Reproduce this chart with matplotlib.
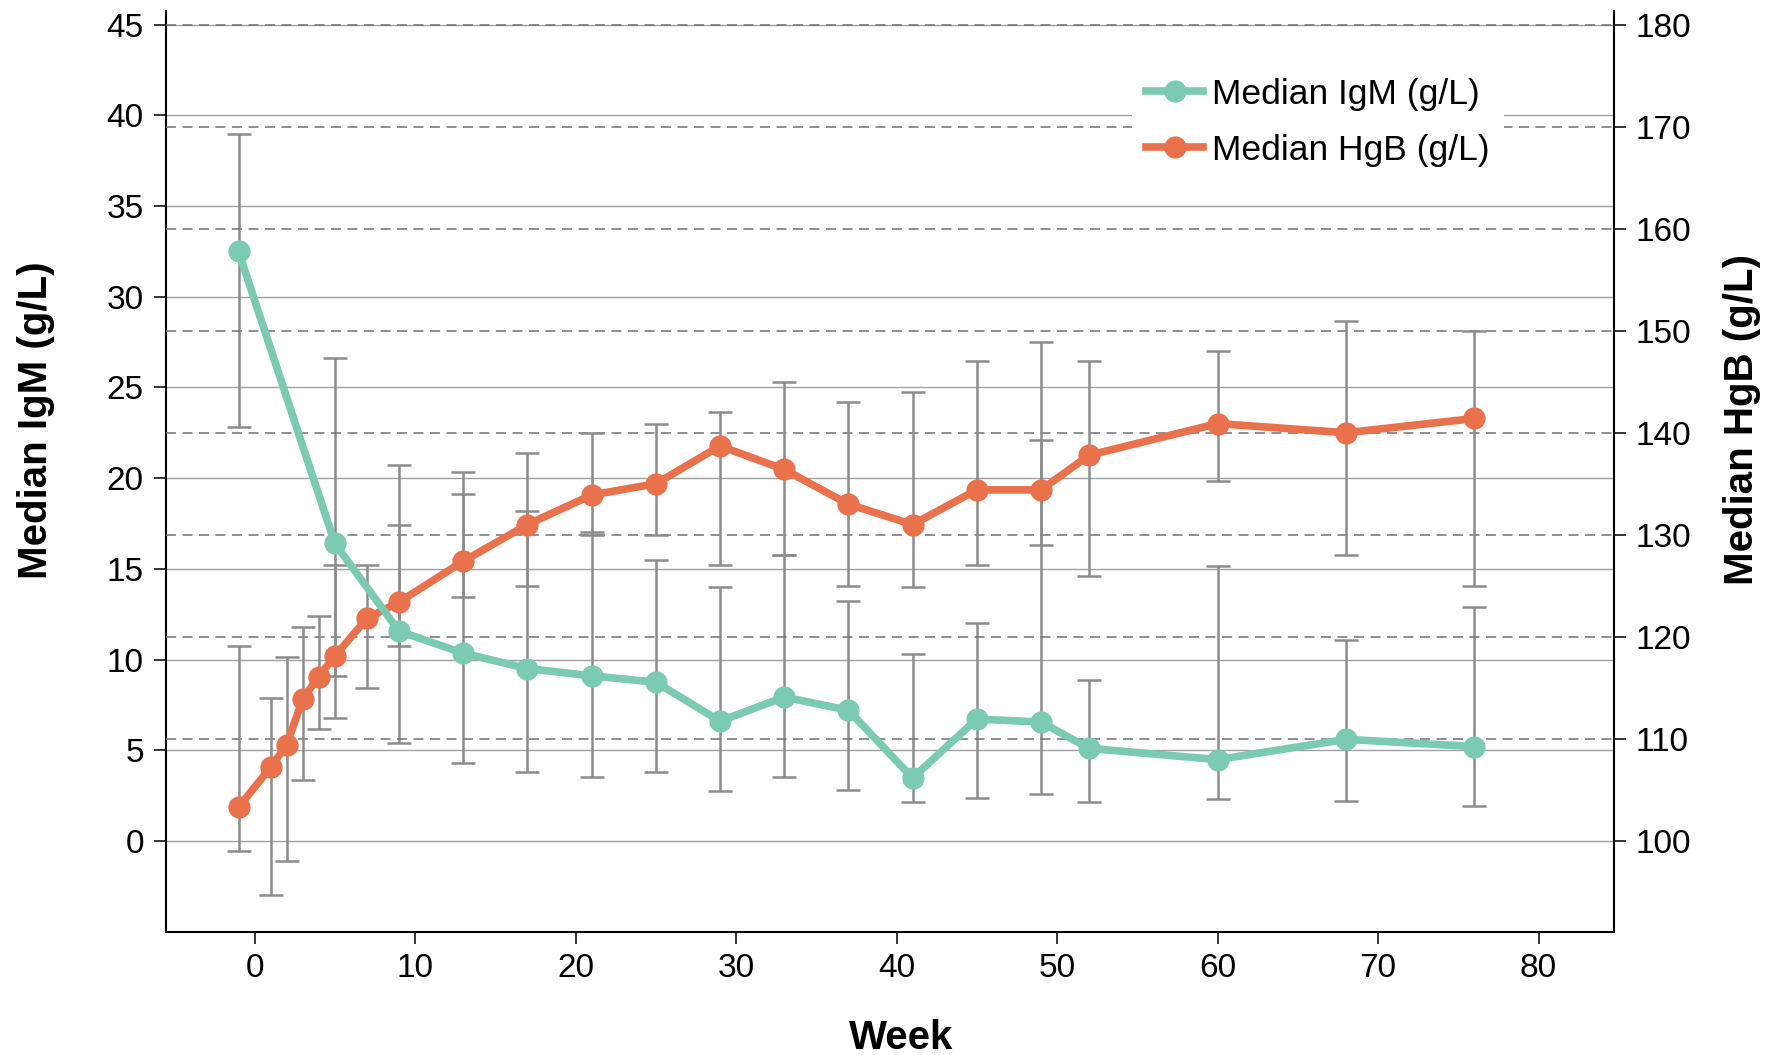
import matplotlib
matplotlib.use('Agg')
import matplotlib.pyplot as plt
import numpy as np

plt.rcParams['font.family'] = ['Liberation Sans', 'DejaVu Sans']

# Median IgM (g/L) with range
weeks_igm = [-1, 5, 9, 13, 17, 21, 25, 29, 33, 37, 41, 45, 49, 52, 60, 68, 76]
igm = [32.5, 16.4, 11.56, 10.35, 9.5, 9.1, 8.75, 6.6, 7.93, 7.2, 3.47, 6.72, 6.55, 5.1, 4.48, 5.6, 5.2]
igm_lo = [22.8, 6.75, 5.4, 4.3, 3.8, 3.55, 3.8, 2.75, 3.5, 2.8, 2.15, 2.35, 2.6, 2.15, 2.3, 2.2, 1.9]
igm_hi = [39.0, 26.6, 17.4, 19.1, 18.2, 17.05, 15.5, 14.0, 15.75, 13.2, 10.3, 12.0, 22.1, 8.85, 15.15, 11.1, 12.9]

# Median HgB (g/L) with range
weeks_hgb = [-1, 1, 2, 3, 4, 5, 7, 9, 13, 17, 21, 25, 29, 33, 37, 41, 45, 49, 52, 60, 68, 76]
hgb = [103.3, 107.2, 109.4, 113.9, 116.1, 118.1, 121.8, 123.4, 127.4, 131.0, 133.9, 135.0,
       138.7, 136.4, 133.0, 131.0, 134.4, 134.4, 137.8, 140.9, 140.0, 141.4]
hgb_lo = [99.0, 94.7, 98.0, 106.0, 111.0, 116.2, 115.0, 119.1, 123.9, 125.0, 130.0, 130.0,
          127.0, 128.0, 125.0, 124.9, 127.0, 129.0, 126.0, 135.3, 128.0, 125.0]
hgb_hi = [119.1, 114.0, 118.0, 121.0, 122.0, 127.0, 127.0, 136.8, 136.2, 138.0, 140.0, 140.9,
          142.0, 145.0, 143.0, 144.0, 147.0, 148.9, 147.0, 148.0, 151.0, 150.0]

igm_ticks = np.arange(0, 46, 5)
hgb_ticks = np.arange(100, 181, 10)
week_ticks = np.arange(0, 81, 10)

teal = '#7bcbb3'
orange = '#e9714b'
bar_col = '#8c8c8c'

fig = plt.figure(figsize=(17.74, 10.55), dpi=100)
ax1 = fig.add_axes([0.0933, 0.117, 0.8165, 0.8726])
ax2 = ax1.twinx()
ax3 = ax1.twinx()

ax1.set_zorder(1)
ax2.set_zorder(2)
ax3.set_zorder(3)
ax2.patch.set_visible(False)
ax3.patch.set_visible(False)

ax1.set_xlim(-5.55, 84.7)
ax1.set_ylim(-5.0, 45.76)
ax2.set_ylim(91.1, 181.35)
ax3.set_ylim(ax1.get_ylim())

# gridlines: solid for left axis, dashed for right axis
for v in igm_ticks:
    ax1.axhline(v, color='#a0a0a0', lw=1.0, zorder=0)
for v in hgb_ticks[1:]:
    ax2.axhline(v, color='#707070', lw=1.1, ls=(0, (6.5, 4.3)), zorder=0)

# error bars
lo = np.array(igm) - np.array(igm_lo)
hi = np.array(igm_hi) - np.array(igm)
ax1.errorbar(weeks_igm, igm, yerr=[lo, hi], fmt='none', ecolor=bar_col,
             elinewidth=1.8, capsize=8.3, capthick=1.8, zorder=2)
lo2 = np.array(hgb) - np.array(hgb_lo)
hi2 = np.array(hgb_hi) - np.array(hgb)
ax2.errorbar(weeks_hgb, hgb, yerr=[lo2, hi2], fmt='none', ecolor=bar_col,
             elinewidth=1.8, capsize=8.3, capthick=1.8, zorder=2)

l2, = ax2.plot(weeks_hgb, hgb, color=orange, lw=5.5, marker='o', ms=15,
               label='Median HgB (g/L)', zorder=5)
l1, = ax3.plot(weeks_igm, igm, color=teal, lw=5.5, marker='o', ms=15,
               label='Median IgM (g/L)', zorder=5)

# axes styling
for s in ['top', 'right']:
    ax1.spines[s].set_visible(False)
for s in ['top', 'left', 'bottom']:
    ax2.spines[s].set_visible(False)
ax1.spines['left'].set_linewidth(1.5)
ax1.spines['bottom'].set_linewidth(1.5)
ax2.spines['right'].set_linewidth(1.5)
ax3.axis('off')

ax1.set_xticks(week_ticks)
ax1.set_yticks(igm_ticks)
ax2.set_yticks(hgb_ticks)
ax1.tick_params(axis='both', direction='out', length=8.6, width=1.1, labelsize=24, pad=7)
ax2.tick_params(axis='y', direction='out', length=8.6, width=1.1, labelsize=24, pad=7)

ax1.set_xlabel('Week', fontsize=29, fontweight='bold')
ax1.xaxis.set_label_coords(0.5075, -0.095)
ax1.set_ylabel('Median IgM (g/L)', fontsize=29, fontweight='bold')
ax1.yaxis.set_label_coords(-0.0763, 0.556)
ax2.set_ylabel('Median HgB (g/L)', fontsize=29, fontweight='bold')
ax2.yaxis.set_label_coords(1.0753, 0.556)

leg = ax3.legend(handles=[l1, l2], loc='upper right', bbox_to_anchor=(0.936, 0.962),
                 fontsize=25.5, frameon=True, fancybox=False, edgecolor='none',
                 facecolor='white', framealpha=1, handlelength=1.6, handletextpad=0.25,
                 labelspacing=0.65, borderpad=0.4)

fig.savefig('out.png', dpi=100)
